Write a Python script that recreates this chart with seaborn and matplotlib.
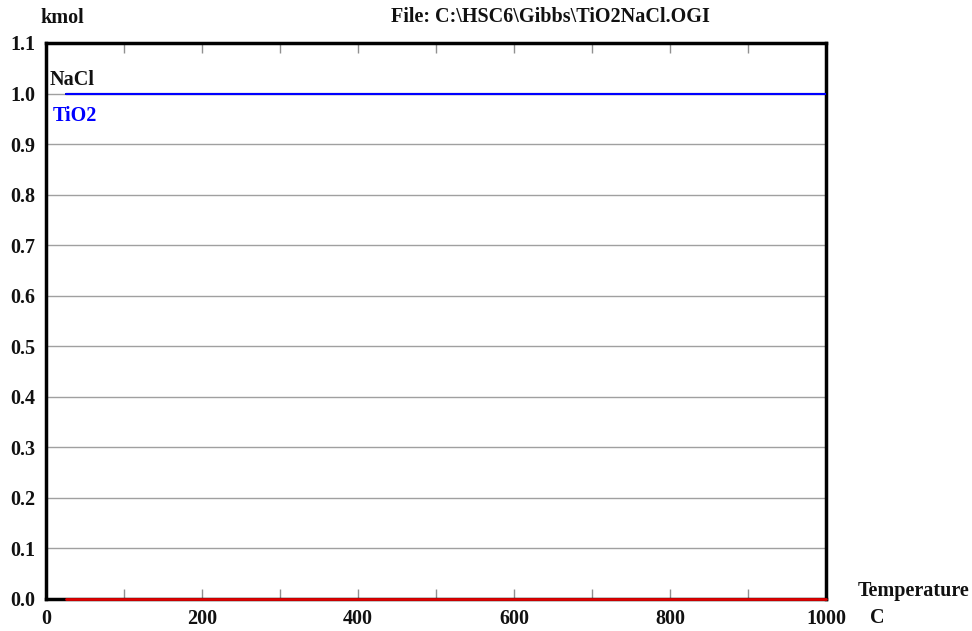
import matplotlib
matplotlib.use("Agg")
import matplotlib.pyplot as plt
import seaborn as sns
import numpy as np
import pandas as pd

temperature = [25, 100, 200, 300, 400, 500, 600, 700, 800, 900, 1000]
nacl = [1.0] * 11
tio2 = [1.0] * 11
other = [0.0] * 11

y_ticks = [0.0, 0.1, 0.2, 0.3, 0.4, 0.5, 0.6, 0.7, 0.8, 0.9, 1.0, 1.1]
x_labels = [0, 200, 400, 600, 800, 1000]

sns.set_style("white")
plt.rcParams['font.family'] = ['Liberation Serif', 'DejaVu Serif']
plt.rcParams['font.weight'] = 'bold'

FS = 14.5

fig = plt.figure(figsize=(9.72, 6.31), dpi=100)
ax = fig.add_axes([46/972, 1-599/631, (826-46)/972, (599-43)/631])

df = pd.DataFrame({"T": temperature, "NaCl": nacl, "TiO2": tio2, "other": other})

for yv in y_ticks[1:-1]:
    ax.axhline(yv, color="#a0a0a0", lw=1.0, zorder=0)

sns.lineplot(data=df, x="T", y="NaCl", ax=ax, color="black", lw=1.5, zorder=2)
sns.lineplot(data=df, x="T", y="TiO2", ax=ax, color="#0000ff", lw=1.5, zorder=3)
sns.lineplot(data=df, x="T", y="other", ax=ax, color="#e00000", lw=2.0, zorder=4, clip_on=False)

ax.set_xlim(0, 1000)
ax.set_ylim(0, 1.1)
ax.set_xlabel("")
ax.set_ylabel("")

ax.set_yticks(y_ticks)
ax.set_yticklabels([f"{v:.1f}" for v in y_ticks], fontsize=FS, fontweight="bold", color="#111111")
ax.set_xticks(np.arange(0, 1001, 100))
ax.set_xticklabels([str(int(v)) if int(v) in x_labels else "" for v in np.arange(0, 1001, 100)],
                   fontsize=FS, fontweight="bold", color="#111111")
ax.tick_params(axis="x", direction="in", length=7, color="#909090", width=1, top=True, bottom=True, pad=7)
ax.tick_params(axis="y", length=0, pad=8)

for s in ["left", "right", "top", "bottom"]:
    ax.spines[s].set_visible(True)
    ax.spines[s].set_color("black")
    ax.spines[s].set_linewidth(2.5)

ax.text(5, 1.007, "NaCl", fontsize=FS, fontweight="bold", color="#111111", ha="left", va="bottom")
ax.text(8, 0.975, "TiO2", fontsize=FS, fontweight="bold", color="#0000ff", ha="left", va="top")

fig.text(40/972, 1-18/631, "kmol", fontsize=FS, fontweight="bold", color="#111111", ha="left", va="center")
fig.text(550/972, 1-17/631, "File: C:\\HSC6\\Gibbs\\TiO2NaCl.OGI", fontsize=FS, fontweight="bold",
         color="#111111", ha="center", va="center")
fig.text(858/972, 1-591/631, "Temperature", fontsize=FS, fontweight="bold", color="#111111", ha="left", va="center")
fig.text(870/972, 1-618/631, "C", fontsize=FS, fontweight="bold", color="#111111", ha="left", va="center")

fig.savefig("out.png", dpi=100, facecolor="white")
